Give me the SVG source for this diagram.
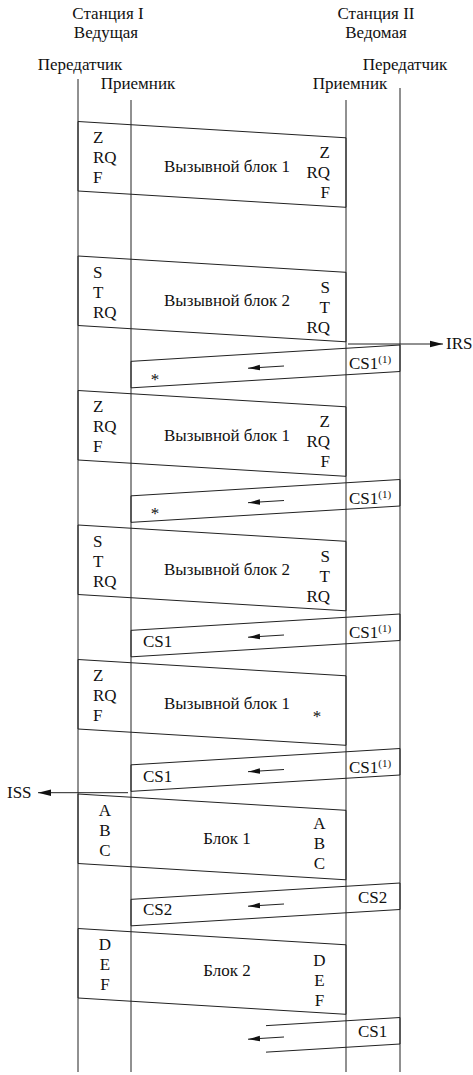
<svg xmlns="http://www.w3.org/2000/svg" width="473" height="1075" viewBox="0 0 473 1075">
<style>
text{font-family:"Liberation Serif","Times New Roman","DejaVu Serif",serif;font-size:17px;fill:#111}
.m{text-anchor:middle}.e{text-anchor:end}
.sup{font-size:11px}
.ln{stroke:#222;stroke-width:1;fill:none}
.blk{stroke:#222;stroke-width:1;fill:none}
.arr{stroke:#222;stroke-width:1;fill:none}
</style>
<defs>
<marker id="ah" markerUnits="userSpaceOnUse" markerWidth="14" markerHeight="8" refX="13" refY="4" orient="auto">
<path d="M0,0.8 L13,4 L0,7.2 Z" fill="#111"/>
</marker>
<marker id="ahs" markerUnits="userSpaceOnUse" markerWidth="13" markerHeight="7" refX="12" refY="3.5" orient="auto">
<path d="M0,0.8 L12,3.5 L0,6.2 Z" fill="#111"/>
</marker>
</defs>
<rect width="473" height="1075" fill="#fff"/>
<g id="headers">
<text class="m" x="108" y="19">Станция I</text>
<text class="m" x="106" y="38">Ведущая</text>
<text class="m" x="376" y="19">Станция II</text>
<text class="m" x="376" y="38">Ведомая</text>
<text class="m" x="80" y="70">Передатчик</text>
<text class="m" x="138" y="89">Приемник</text>
<text class="m" x="350" y="89">Приемник</text>
<text class="m" x="405" y="70">Передатчик</text>
</g>
<g id="lifelines">
<line class="ln" x1="78" y1="79" x2="78" y2="1072"/>
<line class="ln" x1="131" y1="100" x2="131" y2="1072"/>
<line class="ln" x1="346" y1="100" x2="346" y2="1072"/>
<line class="ln" x1="400" y1="88" x2="400" y2="1072"/>
</g>
<g id="call1a">
<polygon class="blk" points="78,121.5 346,137.8 346,207.3 78,191"/>
<text x="93" y="143">Z</text><text x="93" y="163">RQ</text><text x="93" y="183">F</text>
<text class="m" x="227" y="171.5">Вызывной блок 1</text>
<text class="e" x="330" y="158">Z</text><text class="e" x="330" y="178">RQ</text><text class="e" x="330" y="198">F</text>
</g>
<g id="call2a">
<polygon class="blk" points="78,256 346,272.3 346,341.8 78,325.5"/>
<text x="93" y="277.5">S</text><text x="93" y="297.5">T</text><text x="93" y="317.5">RQ</text>
<text class="m" x="227" y="306">Вызывной блок 2</text>
<text class="e" x="330" y="292.5">S</text><text class="e" x="330" y="312.5">T</text><text class="e" x="330" y="332.5">RQ</text>
</g>
<g id="cs1a">
<polygon class="blk" points="400,345 131,361.35 131,387.85 400,371.5"/>
<text x="349" y="369.3">CS1<tspan class="sup" dy="-6">(1)</tspan></text>
<text class="m" x="155" y="384.5">*</text>
</g>
<g id="call1b">
<polygon class="blk" points="78,390.5 346,406.8 346,476.3 78,460"/>
<text x="93" y="412">Z</text><text x="93" y="432">RQ</text><text x="93" y="452">F</text>
<text class="m" x="227" y="440.5">Вызывной блок 1</text>
<text class="e" x="330" y="427">Z</text><text class="e" x="330" y="447">RQ</text><text class="e" x="330" y="467">F</text>
</g>
<g id="cs1b">
<polygon class="blk" points="400,479.5 131,495.85 131,522.35 400,506"/>
<text x="349" y="503.8">CS1<tspan class="sup" dy="-6">(1)</tspan></text>
<text class="m" x="155" y="519">*</text>
</g>
<g id="call2b">
<polygon class="blk" points="78,525 346,541.3 346,610.8 78,594.5"/>
<text x="93" y="546.5">S</text><text x="93" y="566.5">T</text><text x="93" y="586.5">RQ</text>
<text class="m" x="227" y="575">Вызывной блок 2</text>
<text class="e" x="330" y="561.5">S</text><text class="e" x="330" y="581.5">T</text><text class="e" x="330" y="601.5">RQ</text>
</g>
<g id="cs1c">
<polygon class="blk" points="400,614 131,630.35 131,656.85 400,640.5"/>
<text x="349" y="638.3">CS1<tspan class="sup" dy="-6">(1)</tspan></text>
<text x="143" y="646.5">CS1</text>
</g>
<g id="call1c">
<polygon class="blk" points="78,659.5 346,675.8 346,745.3 78,729"/>
<text x="93" y="681">Z</text><text x="93" y="701">RQ</text><text x="93" y="721">F</text>
<text class="m" x="227" y="709">Вызывной блок 1</text>
<text class="m" x="317" y="722">*</text>
</g>
<g id="cs1d">
<polygon class="blk" points="400,748.5 131,764.85 131,791.35 400,775"/>
<text x="349" y="772.8">CS1<tspan class="sup" dy="-6">(1)</tspan></text>
<text x="143" y="781.5">CS1</text>
</g>
<g id="block1">
<polygon class="blk" points="78,794 346,810.3 346,879.8 78,863.5"/>
<text class="m" x="105" y="815.5">A</text><text class="m" x="105" y="835.5">B</text><text class="m" x="105" y="855.5">C</text>
<text class="m" x="227" y="844">Блок 1</text>
<text class="m" x="319.5" y="828.5">A</text><text class="m" x="319.5" y="848.5">B</text><text class="m" x="319.5" y="868.5">C</text>
</g>
<g id="cs2">
<polygon class="blk" points="400,883 131,899.35 131,925.85 400,909.5"/>
<text x="358" y="903">CS2</text>
<text x="143" y="915">CS2</text>
</g>
<g id="block2">
<polygon class="blk" points="78,928.5 346,944.8 346,1014.3 78,998"/>
<text class="m" x="105" y="950">D</text><text class="m" x="105" y="970">E</text><text class="m" x="105" y="990">F</text>
<text class="m" x="227" y="976">Блок 2</text>
<text class="m" x="319.5" y="966">D</text><text class="m" x="319.5" y="986">E</text><text class="m" x="319.5" y="1006">F</text>
</g>
<g id="cs1e">
<path class="blk" d="M266,1025.65 L400,1017.5 L400,1044 L266,1052.15"/>
<text x="358" y="1037">CS1</text>
</g>
<g id="connectors">
<line class="arr" x1="348" y1="344" x2="443" y2="344" marker-end="url(#ah)"/>
<text x="446" y="349">IRS</text>
<line class="arr" x1="128" y1="792.7" x2="38" y2="792.7" marker-end="url(#ah)"/>
<text x="7" y="798">ISS</text>
<line class="arr" x1="284" y1="366" x2="248" y2="368.2" marker-end="url(#ahs)"/>
<line class="arr" x1="284" y1="500.5" x2="248" y2="502.7" marker-end="url(#ahs)"/>
<line class="arr" x1="284" y1="635" x2="248" y2="637.2" marker-end="url(#ahs)"/>
<line class="arr" x1="284" y1="769.5" x2="248" y2="771.7" marker-end="url(#ahs)"/>
<line class="arr" x1="284" y1="904" x2="248" y2="906.2" marker-end="url(#ahs)"/>
<line class="arr" x1="284" y1="1037" x2="248" y2="1039.2" marker-end="url(#ahs)"/>
</g>
</svg>
